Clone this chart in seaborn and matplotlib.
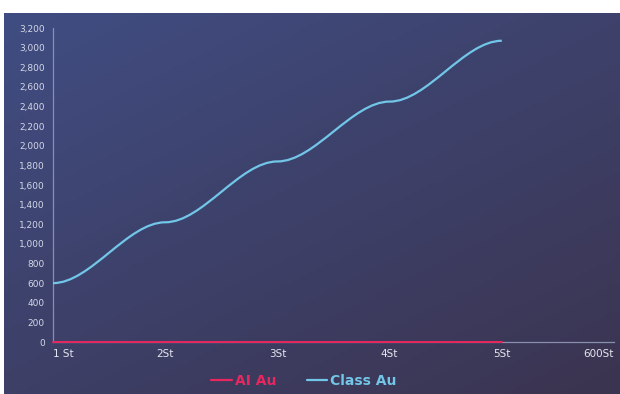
import numpy as np
import pandas as pd
import matplotlib
matplotlib.use("Agg")
import matplotlib.pyplot as plt
from matplotlib.path import Path
from matplotlib.patches import PathPatch
from matplotlib.lines import Line2D
import seaborn as sns

categories = ["1 St", "2St", "3St", "4St", "5St", "600St"]
class_au = [600, 1220, 1840, 2450, 3070]
ai_au = [0, 0, 0, 0, 0]
y_ticks = list(range(0, 3201, 200))

RED = "#e8275e"
BLUE = "#72c6e8"

sns.set_theme(style="white")
plt.rcParams["font.family"] = ["DejaVu Sans"]

fig = plt.figure(figsize=(6.2, 3.94), dpi=100)
fig.patch.set_facecolor("white")

# gradient background
bg = fig.add_axes([4 / 620, 0, 1 - 4 / 620, 1 - 13 / 394])
bg.set_axis_off()
h, w = 100, 160
yy, xx = np.mgrid[0:1:h * 1j, 0:1:w * 1j]
t = np.clip(0.55 * yy + 0.45 * xx, 0, 1)
c0 = np.array([0x40, 0x4d, 0x82]) / 255
c1 = np.array([0x3b, 0x34, 0x50]) / 255
img = c0[None, None, :] * (1 - t[..., None]) + c1[None, None, :] * t[..., None]
bg.imshow(img, aspect="auto", extent=[0, 1, 0, 1], origin="upper")
bg.set_xlim(0, 1)
bg.set_ylim(0, 1)

ax = fig.add_axes([53 / 620, 1 - 342 / 394, (614 - 53) / 620, (342 - 28) / 394])
ax.set_facecolor("none")

df_ai = pd.DataFrame({"x": range(len(ai_au)), "y": ai_au})
sns.lineplot(data=df_ai, x="x", y="y", ax=ax, color=RED, linewidth=1.4)
for ln in ax.get_lines():
    ln.set_clip_on(False)
    ln.set_zorder(6)

# smooth curve with flat tangents at each point (bezier in data coords)
xs = list(range(len(class_au)))
verts = [(xs[0], class_au[0])]
codes = [Path.MOVETO]
for i in range(1, len(class_au)):
    dx = xs[i] - xs[i - 1]
    verts += [(xs[i - 1] + dx / 3, class_au[i - 1]), (xs[i] - dx / 3, class_au[i]), (xs[i], class_au[i])]
    codes += [Path.CURVE4] * 3
ax.add_patch(PathPatch(Path(verts, codes), fill=False, edgecolor=BLUE, linewidth=1.6, zorder=5))

ax.set_xlim(0, len(categories) - 1)
ax.set_ylim(0, 3200)
ax.set_xticks(range(len(categories)))
ax.set_xticklabels(categories)
ax.set_yticks(y_ticks)
ax.set_yticklabels([f"{v:,}" for v in y_ticks])
ax.set_xlabel("")
ax.set_ylabel("")
ax.grid(False)
ax.tick_params(axis="y", length=0, pad=6, labelsize=6.5, labelcolor="#d4d8e8")
ax.tick_params(axis="x", length=0, pad=5, labelsize=7.5, labelcolor="#e4e6f0")
xl = ax.get_xticklabels()
xl[0].set_ha("left")
xl[-1].set_ha("right")
for s in ["top", "right"]:
    ax.spines[s].set_visible(False)
for s in ["left", "bottom"]:
    ax.spines[s].set_color("#8a8fb0")
    ax.spines[s].set_linewidth(0.9)
    ax.spines[s].set_zorder(2)

handles = [Line2D([0], [0], color=RED, lw=1.6), Line2D([0], [0], color=BLUE, lw=1.6)]
leg = fig.legend(handles, ["AI Au", "Class Au"], loc="center", bbox_to_anchor=(0.49, 1 - 381 / 394),
                 ncol=2, frameon=False, handlelength=1.5, handletextpad=0.2, columnspacing=2.2,
                 prop={"weight": "bold", "size": 10})
for txt, c in zip(leg.get_texts(), [RED, BLUE]):
    txt.set_color(c)

fig.savefig("out.png", dpi=100)
